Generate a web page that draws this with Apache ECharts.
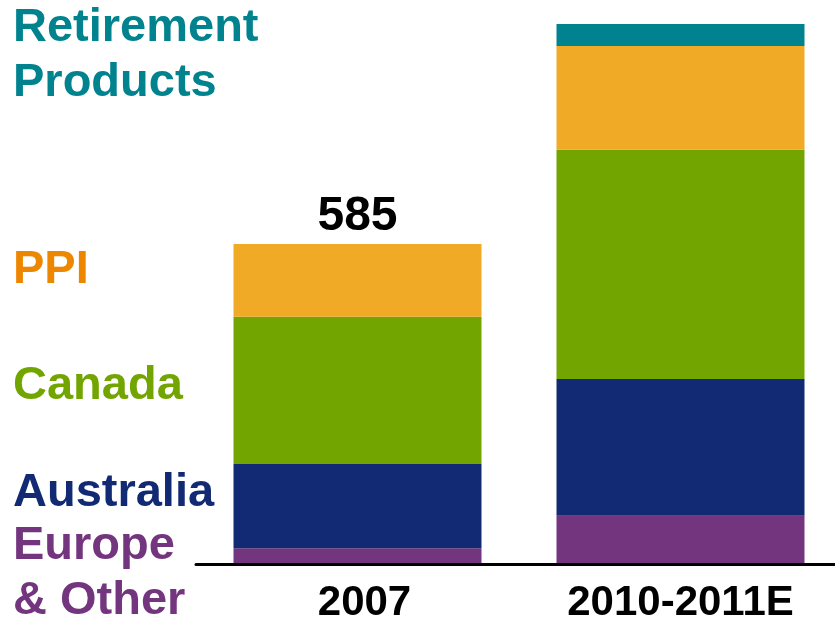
<!DOCTYPE html>
<html>
<head>
<meta charset="utf-8">
<script src="https://cdn.jsdelivr.net/npm/echarts@6/dist/echarts.min.js"></script>
<style>
    html, body {margin: 0; padding: 0; background: #fff;}
    #chart {width: 835px; height: 624px;}
</style>
</head>
<body>
<div id="chart"></div>
<script>
const categories = ['2007', '2010-2011E'];
const europeOther = [29, 88];
const australia = [154, 250];
const canada = [269, 419];
const ppi = [133, 190];
const retirement = [0, 40];
const totalLabels = ['585', ''];

const seriesNames = ['Europe & Other', 'Australia', 'Canada', 'PPI', 'Retirement Products'];
const seriesColors = ['#74357F', '#122A73', '#72A500', '#F0AA25', '#01838F'];
const textColors = ['#74357F', '#122A73', '#72A500', '#EE8700', '#01838F'];
const seriesData = [europeOther, australia, canada, ppi, retirement];

// left side names, one line each: [text, series index, baseline y]
const nameLines = [
    ['Retirement', 4, 44],
    ['Products', 4, 99],
    ['PPI', 3, 286],
    ['Canada', 2, 402],
    ['Australia', 1, 509],
    ['Europe', 0, 562],
    ['& Other', 0, 617]
];

const font = 'Liberation Sans, Arial, sans-serif';
const chart = echarts.init(document.getElementById('chart'));

let series = seriesData.map((d, i) => {
    return {
        name: seriesNames[i],
        type: 'bar',
        stack: 'total',
        barWidth: 248,
        itemStyle: {color: seriesColors[i]},
        data: d,
        animation: false
    };
});
// total on top of the 2007 bar
series[3].label = {
    show: true,
    position: 'top',
    distance: 3,
    fontFamily: font,
    fontWeight: 'bold',
    fontSize: 48,
    color: '#000',
    formatter: (p) => totalLabels[p.dataIndex]
};

let graphics = nameLines.map((l) => {
    return {
        type: 'text',
        left: 13,
        y: l[2] - 16,
        style: {
            text: l[0],
            fill: textColors[l[1]],
            font: 'bold 47px ' + font,
            verticalAlign: 'middle'
        }
    };
});

chart.setOption({
    animation: false,
    grid: {
        top: 24,
        left: 196,
        right: -7,
        bottom: 60,
        outerBoundsMode: 'none',
        containLabel: false
    },
    xAxis: {
        type: 'category',
        data: categories,
        axisTick: {show: false},
        axisLine: {show: true, lineStyle: {color: '#000', width: 3}},
        axisLabel: {
            margin: 18,
            fontFamily: font,
            fontWeight: 'bold',
            fontSize: 42,
            color: '#000',
            // first label sits a little right of its bar in the original
            formatter: (v, i) => i === 0 ? '{a|' + v + '}' : v,
            rich: {
                a: {padding: [0, 0, 0, 14]}
            }
        },
        z: 10
    },
    yAxis: {
        type: 'value',
        min: 0,
        max: 'dataMax',
        show: false,
        splitLine: {show: false}
    },
    series: series,
    graphic: graphics
});
</script>
</body>
</html>
